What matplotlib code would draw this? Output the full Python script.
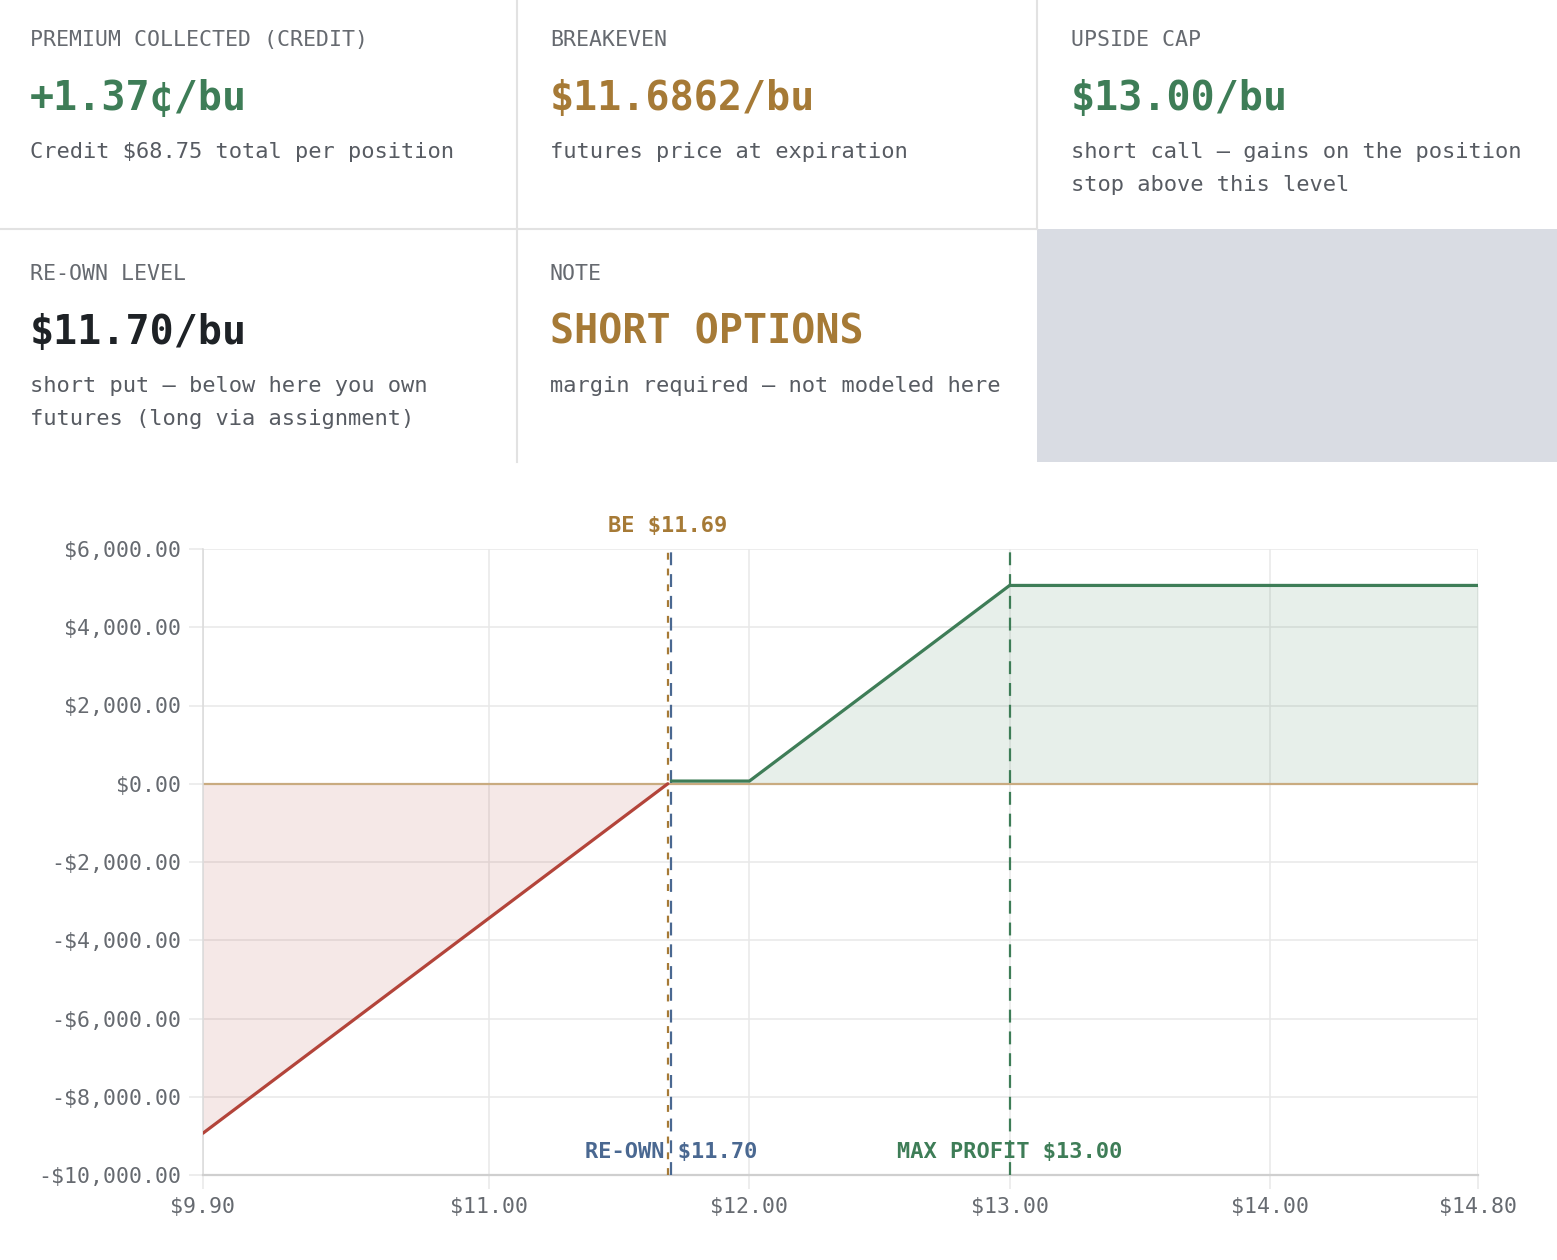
import matplotlib
matplotlib.use("Agg")
import matplotlib.pyplot as plt
from matplotlib.ticker import FuncFormatter, FixedLocator

# ---------------- data ----------------
card_labels = ["PREMIUM COLLECTED (CREDIT)", "BREAKEVEN", "UPSIDE CAP",
               "RE-OWN LEVEL", "NOTE"]
card_values = ["+1.37¢/bu", "$11.6862/bu", "$13.00/bu", "$11.70/bu", "SHORT OPTIONS"]
card_subs = [["Credit $68.75 total per position"],
             ["futures price at expiration"],
             ["short call — gains on the position", "stop above this level"],
             ["short put — below here you own", "futures (long via assignment)"],
             ["margin required — not modeled here"]]
card_kinds = ["green", "gold", "green", "dark", "gold"]

prices = [9.90, 11.6862, 11.70, 12.00, 13.00, 14.80]
pnl = [-8931.25, 0.0, 68.75, 68.75, 5068.75, 5068.75]
breakeven = 11.6862
reown = 11.70
maxprofit = 13.00
x_ticks = [9.90, 11.00, 12.00, 13.00, 14.00, 14.80]
y_ticks = [-10000, -8000, -6000, -4000, -2000, 0, 2000, 4000, 6000]

# ---------------- style ----------------
W, H = 1557, 1260
MONO = "DejaVu Sans Mono"
GREEN = "#3e7d57"
GOLD = "#a67a36"
DARK = "#1e2226"
BLUE = "#4a6891"
RED = "#b3443a"
LABEL_GRAY = "#666a70"
SUB_GRAY = "#575b62"
BORDER = "#e2e2e2"
GRID = "#e8e8e8"
kind_color = {"green": GREEN, "gold": GOLD, "dark": DARK}

fig = plt.figure(figsize=(W / 100, H / 100), dpi=100)
fig.patch.set_facecolor("white")

# overlay in pixel coordinates for the cards
ov = fig.add_axes([0, 0, 1, 1])
ov.set_xlim(0, W)
ov.set_ylim(H, 0)
ov.axis("off")

# grey filler cell
ov.add_patch(plt.Rectangle((1037, 229), W - 1037, 462 - 229,
                           facecolor="#d9dce3", edgecolor="none", zorder=1))
# borders
ov.plot([517, 517], [0, 462], color=BORDER, lw=1.5, zorder=2)
ov.plot([1037, 1037], [0, 229], color=BORDER, lw=1.5, zorder=2)
ov.plot([0, 1037], [229, 229], color=BORDER, lw=1.5, zorder=2)

col_x = [30, 550, 1071]
row_y = [0, 234]
for i, (lab, val, subs, kind) in enumerate(zip(card_labels, card_values, card_subs, card_kinds)):
    r, c = divmod(i, 3)
    x0 = col_x[c]
    y0 = row_y[r]
    ov.text(x0, y0 + 46, lab, family=MONO, fontsize=15.5, color=LABEL_GRAY,
            va="baseline", ha="left", zorder=3)
    ov.text(x0, y0 + 110, val, family=MONO, fontsize=28.8, fontweight="bold",
            color=kind_color[kind], va="baseline", ha="left", zorder=3)
    for j, s in enumerate(subs):
        ov.text(x0, y0 + 158 + 33 * j, s, family=MONO, fontsize=15.8,
                color=SUB_GRAY, va="baseline", ha="left", zorder=3)

# ---------------- chart ----------------
L, R, T, B = 203, 1478, 549, 1175
ax = fig.add_axes([L / W, (H - B) / H, (R - L) / W, (B - T) / H])
ax.set_facecolor("none")
ax.set_xlim(prices[0], prices[-1])
ax.set_ylim(-10000, 6000)

ax.xaxis.set_major_locator(FixedLocator(x_ticks))
ax.yaxis.set_major_locator(FixedLocator(y_ticks))
ax.xaxis.set_major_formatter(FuncFormatter(lambda v, p: f"${v:.2f}"))
ax.yaxis.set_major_formatter(FuncFormatter(
    lambda v, p: ("-" if v < 0 else "") + f"${abs(v):,.2f}"))

ax.grid(True, color=GRID, lw=1.1, zorder=0)
ax.set_axisbelow(True)
for s in ["top", "right"]:
    ax.spines[s].set_visible(False)
ax.spines["left"].set_color("#dadada")
ax.spines["left"].set_linewidth(1.1)
ax.spines["bottom"].set_color("#cfcfcf")
ax.spines["bottom"].set_linewidth(1.6)
ax.tick_params(axis="both", length=10, width=1.1, color=GRID,
               labelcolor=LABEL_GRAY, labelsize=15.5, pad=6)
for lbl in ax.get_xticklabels() + ax.get_yticklabels():
    lbl.set_family(MONO)

# fills
bi = prices.index(breakeven)
ax.fill_between(prices[:bi + 1], pnl[:bi + 1], 0, color=RED, alpha=0.12,
                lw=0, zorder=1)
ax.fill_between(prices[bi:], pnl[bi:], 0, color=GREEN, alpha=0.12,
                lw=0, zorder=1)

# zero line
ax.axhline(0, color="#c9ab80", lw=1.6, zorder=2)

# reference lines
ax.axvline(breakeven, color=GOLD, lw=1.6, dashes=(3.1, 4.0), zorder=3)
ax.axvline(reown, color=BLUE, lw=1.6, dashes=(5.8, 4.0), zorder=3)
ax.axvline(maxprofit, color=GREEN, lw=1.6, dashes=(5.8, 4.0), zorder=3)

# payoff line
ax.plot(prices[:bi + 1], pnl[:bi + 1], color=RED, lw=2.3, zorder=4,
        solid_capstyle="round")
ax.plot(prices[bi + 1:], pnl[bi + 1:], color=GREEN, lw=2.3, zorder=4,
        solid_capstyle="round", solid_joinstyle="miter")

tr = ax.get_xaxis_transform()
ax.text(breakeven, 1.037, f"BE ${breakeven:.2f}", transform=tr, ha="center",
        va="center", family=MONO, fontweight="bold", fontsize=15.8, color=GOLD,
        clip_on=False)
ax.text(reown, 0.037, f"RE-OWN ${reown:.2f}", transform=tr, ha="center",
        va="center", family=MONO, fontweight="bold", fontsize=15.8, color=BLUE)
ax.text(maxprofit, 0.037, f"MAX PROFIT ${maxprofit:.2f}", transform=tr,
        ha="center", va="center", family=MONO, fontweight="bold",
        fontsize=15.8, color=GREEN)

fig.savefig("out.png", dpi=100, facecolor="white")
